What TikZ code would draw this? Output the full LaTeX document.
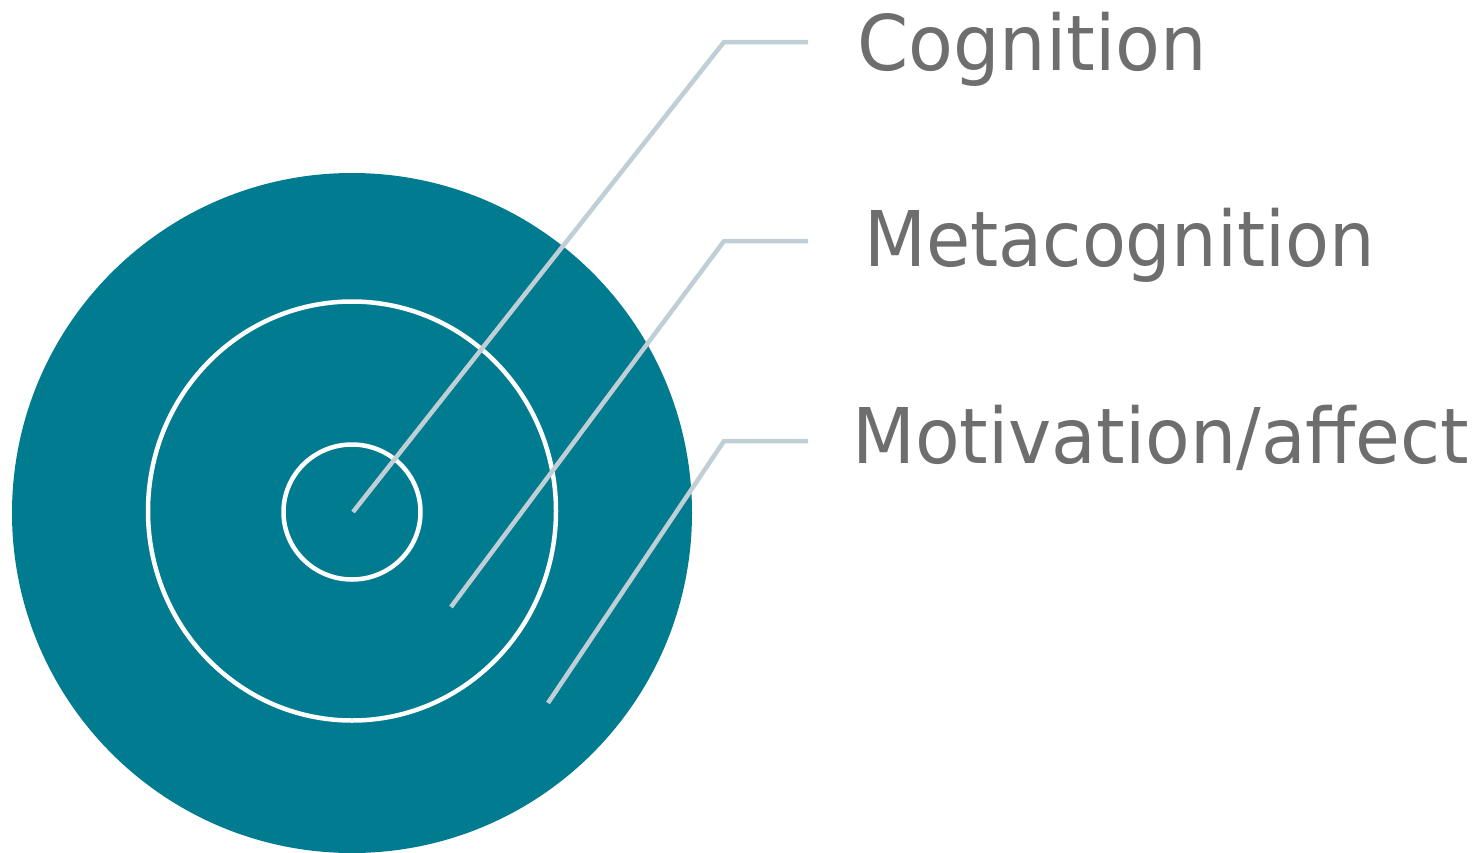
\documentclass[tikz,border=0pt]{standalone}
\usepackage{fontspec}
\setmainfont{DejaVu Sans}
\definecolor{teal}{HTML}{017B90}
\definecolor{leader}{HTML}{BFCFD5}
\definecolor{labelgray}{HTML}{6E6E6E}
\begin{document}
\begin{tikzpicture}[x=1pt,y=-1pt,
  ring/.style={draw=white,line width=4.5pt},
  leaderline/.style={draw=leader,line width=4.5pt},
  layerlabel/.style={anchor=base west,inner sep=0pt,text=labelgray,
    font=\fontsize{76.8}{80}\selectfont}]
\useasboundingbox (0,0) rectangle (1483,852);
% outer disc and the two inner rings
\fill[teal] (352,513) circle (340);
\draw[ring] (352,511) ellipse [x radius=204, y radius=209.5];
\draw[ring] (352,512) ellipse [x radius=68.5, y radius=67.5];
% labels
\node[layerlabel] (cog) at (857,70) {\scalebox{0.955}[1]{Cognition}};
\node[layerlabel] (meta) at (864,266) {\scalebox{0.935}[1]{Metacognition}};
\node[layerlabel] (mot) at (852,463) {\scalebox{0.95}[1]{Motivation/affect}};
% leader lines from each layer to its label
\coordinate (p1) at (353,512);
\coordinate (p2) at (451,607);
\coordinate (p3) at (548,703);
\coordinate (k1) at (724,42);
\coordinate (k2) at (724,241);
\coordinate (k3) at (724,441);
\coordinate (e1) at (808,42);
\coordinate (e2) at (808,241);
\coordinate (e3) at (808,441);
\draw[leaderline] (p1) -- (k1) -- (e1);
\draw[leaderline] (p2) -- (k2) -- (e2);
\draw[leaderline] (p3) -- (k3) -- (e3);
\end{tikzpicture}
\end{document}
